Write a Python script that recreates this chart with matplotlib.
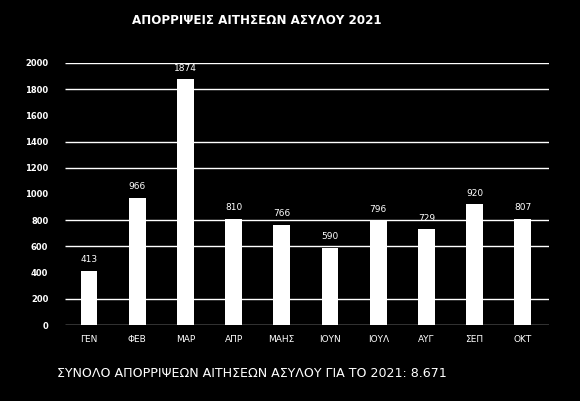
import matplotlib
matplotlib.use("Agg")
import matplotlib.pyplot as plt
import numpy as np

months = ["ΓΕΝ", "ΦΕΒ", "ΜΑΡ", "ΑΠΡ", "ΜΑΗΣ", "ΙΟΥΝ", "ΙΟΥΛ", "ΑΥΓ", "ΣΕΠ", "ΟΚΤ"]
rejections = [413, 966, 1874, 810, 766, 590, 796, 729, 920, 807]
yticks = [0, 200, 400, 600, 800, 1000, 1200, 1400, 1600, 1800, 2000]
# only some gridlines are visible in the original
grid_vals = [0, 200, 600, 800, 1200, 1400, 1800, 2000]

title = "ΑΠΟΡΡΙΨΕΙΣ ΑΙΤΗΣΕΩΝ ΑΣΥΛΟΥ 2021"
footer = "ΣΥΝΟΛΟ ΑΠΟΡΡΙΨΕΩΝ ΑΙΤΗΣΕΩΝ ΑΣΥΛΟΥ ΓΙΑ ΤΟ 2021: 8.671"

narrow = ["Liberation Sans Narrow", "DejaVu Sans"]

fig = plt.figure(figsize=(5.8, 4.01), dpi=100, facecolor="black")
ax = fig.add_axes([0.112, 0.1895, 0.835, 0.6535], facecolor="black")

x = np.arange(len(months))
ax.hlines(grid_vals, -0.5, len(months) - 0.45, colors="white", linewidth=1.0, zorder=1)
bars = ax.bar(x, rejections, width=0.35, color="white", zorder=2)

for xi, v in zip(x, rejections):
    ax.annotate(str(v), (xi, v), xytext=(0, 5), textcoords="offset points",
                ha="center", va="bottom", color="white", fontsize=6.5,
                family=narrow)

ax.set_xlim(-0.5, len(months) - 0.45)
ax.set_ylim(0, 2000)
ax.set_xticks(x)
ax.set_xticklabels(months, family=narrow, fontsize=6.5, color="white")
ax.set_yticks(yticks)
ax.set_yticklabels([str(t) for t in yticks], family=narrow, fontsize=6,
                   color="white", fontweight="bold")
ax.tick_params(length=0, pad=12)
ax.tick_params(axis="x", pad=7)
for s in ax.spines.values():
    s.set_visible(False)

fig.text(0.443, 0.95, title, ha="center", va="center", color="white",
         fontsize=8.6, fontweight="bold")
fig.text(0.098, 0.069, footer, ha="left", va="center", color="white",
         fontsize=9.1)

fig.savefig("out.png", dpi=100, facecolor="black")
